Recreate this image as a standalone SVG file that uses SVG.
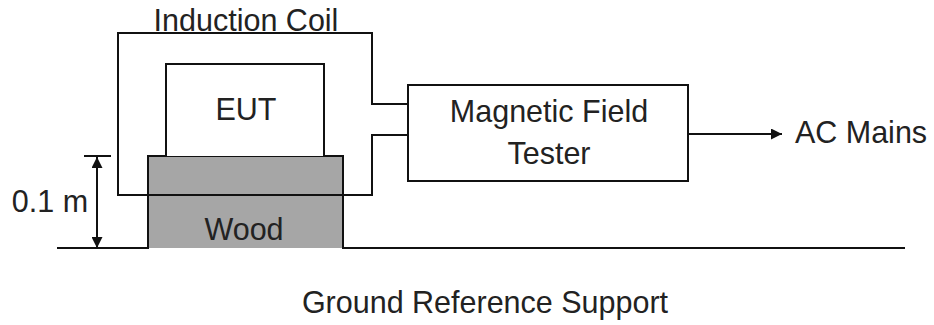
<svg xmlns="http://www.w3.org/2000/svg" width="934" height="325" viewBox="0 0 934 325">
  <defs>
    <style>
      .ln { fill: none; stroke: #111; stroke-width: 2; }
      .box { fill: #fff; stroke: #111; stroke-width: 2; }
      .t { font-family: "Liberation Sans", Arial, sans-serif; font-size: 30.5px; fill: #222; text-anchor: middle; }
    </style>
    <marker id="arr" viewBox="0 0 10 10" refX="10" refY="5" markerWidth="13" markerHeight="11" markerUnits="userSpaceOnUse" orient="auto-start-reverse">
      <path d="M0,0 L10,5 L0,10 z" fill="#111"/>
    </marker>
  </defs>
  <rect width="934" height="325" fill="#fff"/>

  <g id="wood">
    <rect x="148" y="156" width="195" height="92" fill="#a6a6a6"/>
    <text class="t" x="244" y="240">Wood</text>
  </g>

  <g id="ground">
    <path class="ln" d="M57 248 H148 V156 H343 V248 H905"/>
    <text class="t" x="485" y="313">Ground Reference Support</text>
  </g>

  <g id="eut">
    <path class="ln" d="M166 156 V64 H324 V156" style="fill:#fff"/>
    <text class="t" x="246" y="120">EUT</text>
  </g>

  <g id="tester">
    <rect class="box" x="408" y="85" width="280" height="96"/>
    <text class="t" x="549" y="122">Magnetic Field</text>
    <text class="t" x="549" y="164">Tester</text>
  </g>

  <g id="coil">
    <path class="ln" d="M408 104 H372 V33 H118 V195 H372 V135 H408"/>
    <text class="t" x="246" y="31">Induction Coil</text>
  </g>

  <g id="mains">
    <text class="t" x="861" y="143">AC Mains</text>
  </g>

  <g id="dimension">
    <text class="t" x="50" y="212">0.1 m</text>
  </g>

  <g id="connectors">
    <line class="ln" x1="688" y1="134" x2="782" y2="134" marker-end="url(#arr)"/>
    <line class="ln" x1="84" y1="156" x2="111" y2="156"/>
    <line class="ln" x1="97" y1="157" x2="97" y2="248" marker-start="url(#arr)" marker-end="url(#arr)"/>
  </g>
</svg>
